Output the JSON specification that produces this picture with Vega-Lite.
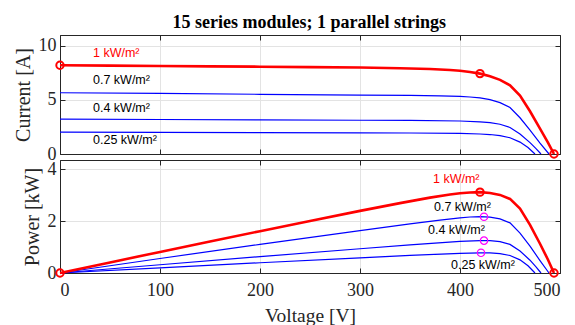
{
  "$schema": "https://vega.github.io/schema/vega-lite/v6.json",
  "autosize": {"type": "none"},
  "padding": {"left": 60, "top": 35, "right": 515, "bottom": 290},
  "background": "white",
  "title": {"text": "15 series modules; 1 parallel strings", "font": "Liberation Serif", "fontSize": 18, "fontWeight": "bold", "color": "#000000", "anchor": "middle", "offset": 2, "dx": 22},
  "config": {
    "view": {"stroke": "#262626", "strokeWidth": 1},
    "axis": {"labelFont": "Liberation Serif", "labelFontSize": 18, "labelColor": "#262626", "titleFont": "Liberation Serif", "titleFontSize": 20, "titleFontWeight": "normal", "titleColor": "#262626", "tickColor": "#262626", "domainColor": "#262626", "tickSize": -5, "gridColor": "#e3e3e3", "gridWidth": 1}
  },
  "datasets": {
    "curves": [
      {"series": "1", "V": 0, "I": 8.2, "P": 0},
      {"series": "1", "V": 50, "I": 8.17, "P": 0.409},
      {"series": "1", "V": 100, "I": 8.14, "P": 0.814},
      {"series": "1", "V": 150, "I": 8.1, "P": 1.215},
      {"series": "1", "V": 200, "I": 8.07, "P": 1.614},
      {"series": "1", "V": 250, "I": 8.03, "P": 2.008},
      {"series": "1", "V": 300, "I": 7.99, "P": 2.397},
      {"series": "1", "V": 340, "I": 7.93, "P": 2.696},
      {"series": "1", "V": 370, "I": 7.86, "P": 2.908},
      {"series": "1", "V": 390, "I": 7.76, "P": 3.026},
      {"series": "1", "V": 400, "I": 7.69, "P": 3.076},
      {"series": "1", "V": 410, "I": 7.58, "P": 3.108},
      {"series": "1", "V": 420, "I": 7.43, "P": 3.121},
      {"series": "1", "V": 430, "I": 7.18, "P": 3.087},
      {"series": "1", "V": 440, "I": 6.85, "P": 3.014},
      {"series": "1", "V": 450, "I": 6.35, "P": 2.858},
      {"series": "1", "V": 460, "I": 5.4, "P": 2.484},
      {"series": "1", "V": 470, "I": 3.95, "P": 1.857},
      {"series": "1", "V": 480, "I": 2.35, "P": 1.128},
      {"series": "1", "V": 488, "I": 1.05, "P": 0.512},
      {"series": "1", "V": 494, "I": 0, "P": 0},
      {"series": "0.7", "V": 0, "I": 5.66, "P": 0},
      {"series": "0.7", "V": 100, "I": 5.6, "P": 0.56},
      {"series": "0.7", "V": 200, "I": 5.52, "P": 1.104},
      {"series": "0.7", "V": 300, "I": 5.45, "P": 1.635},
      {"series": "0.7", "V": 350, "I": 5.41, "P": 1.894},
      {"series": "0.7", "V": 380, "I": 5.37, "P": 2.041},
      {"series": "0.7", "V": 400, "I": 5.32, "P": 2.128},
      {"series": "0.7", "V": 410, "I": 5.27, "P": 2.161},
      {"series": "0.7", "V": 420, "I": 5.18, "P": 2.176},
      {"series": "0.7", "V": 430, "I": 5.02, "P": 2.159},
      {"series": "0.7", "V": 440, "I": 4.75, "P": 2.09},
      {"series": "0.7", "V": 450, "I": 4.3, "P": 1.935},
      {"series": "0.7", "V": 460, "I": 3.35, "P": 1.541},
      {"series": "0.7", "V": 470, "I": 2.2, "P": 1.034},
      {"series": "0.7", "V": 480, "I": 1.0, "P": 0.48},
      {"series": "0.7", "V": 489, "I": 0, "P": 0},
      {"series": "0.4", "V": 0, "I": 3.22, "P": 0},
      {"series": "0.4", "V": 100, "I": 3.19, "P": 0.319},
      {"series": "0.4", "V": 200, "I": 3.16, "P": 0.632},
      {"series": "0.4", "V": 300, "I": 3.12, "P": 0.936},
      {"series": "0.4", "V": 350, "I": 3.1, "P": 1.085},
      {"series": "0.4", "V": 400, "I": 3.05, "P": 1.22},
      {"series": "0.4", "V": 420, "I": 2.97, "P": 1.247},
      {"series": "0.4", "V": 430, "I": 2.9, "P": 1.247},
      {"series": "0.4", "V": 440, "I": 2.75, "P": 1.21},
      {"series": "0.4", "V": 450, "I": 2.45, "P": 1.103},
      {"series": "0.4", "V": 460, "I": 1.85, "P": 0.851},
      {"series": "0.4", "V": 470, "I": 1.05, "P": 0.494},
      {"series": "0.4", "V": 476, "I": 0.5, "P": 0.238},
      {"series": "0.4", "V": 481, "I": 0, "P": 0},
      {"series": "0.25", "V": 0, "I": 2.02, "P": 0},
      {"series": "0.25", "V": 100, "I": 2.0, "P": 0.2},
      {"series": "0.25", "V": 200, "I": 1.98, "P": 0.396},
      {"series": "0.25", "V": 300, "I": 1.95, "P": 0.585},
      {"series": "0.25", "V": 350, "I": 1.94, "P": 0.679},
      {"series": "0.25", "V": 400, "I": 1.9, "P": 0.76},
      {"series": "0.25", "V": 420, "I": 1.85, "P": 0.777},
      {"series": "0.25", "V": 430, "I": 1.8, "P": 0.774},
      {"series": "0.25", "V": 440, "I": 1.7, "P": 0.748},
      {"series": "0.25", "V": 450, "I": 1.5, "P": 0.675},
      {"series": "0.25", "V": 460, "I": 1.1, "P": 0.506},
      {"series": "0.25", "V": 468, "I": 0.6, "P": 0.281},
      {"series": "0.25", "V": 475, "I": 0, "P": 0}
    ],
    "markersI": [
      {"series": "1", "V": 0, "I": 8.2},
      {"series": "1", "V": 420, "I": 7.43},
      {"series": "1", "V": 494, "I": 0}
    ],
    "markersP": [
      {"series": "1", "V": 0, "P": 0},
      {"series": "1", "V": 420, "P": 3.12},
      {"series": "1", "V": 494, "P": 0},
      {"series": "0.7", "V": 424, "P": 2.17},
      {"series": "0.4", "V": 424, "P": 1.25},
      {"series": "0.25", "V": 421, "P": 0.78}
    ],
    "labelsI": [
      {"series": "1", "V": 33, "I": 9.3, "text": "1 kW/m²"},
      {"series": "0.7", "V": 33, "I": 6.8, "text": "0.7 kW/m²"},
      {"series": "0.4", "V": 33, "I": 4.26, "text": "0.4 kW/m²"},
      {"series": "0.25", "V": 33, "I": 1.34, "text": "0.25 kW/m²"}
    ],
    "labelsP": [
      {"series": "1", "V": 373, "P": 3.62, "text": "1 kW/m²"},
      {"series": "0.7", "V": 374, "P": 2.56, "text": "0.7 kW/m²"},
      {"series": "0.4", "V": 368, "P": 1.67, "text": "0.4 kW/m²"},
      {"series": "0.25", "V": 391, "P": 0.32, "text": "0.25 kW/m²"}
    ]
  },
  "spacing": 6,
  "bounds": "flush",
  "vconcat": [
    {
      "width": 500,
      "height": 119,
      "resolve": {"axis": {"x": "independent", "y": "independent"}},
      "layer": [
        {
          "data": {"name": "curves"},
          "transform": [{"filter": "datum.series != '1'"}],
          "mark": {"type": "line", "color": "#0000ff", "strokeWidth": 1.2},
          "encoding": {
            "x": {"field": "V", "type": "quantitative", "scale": {"domain": [0, 500], "nice": false}, "axis": {"values": [0, 100, 200, 300, 400, 500], "labels": false, "title": null, "grid": true}},
            "y": {"field": "I", "type": "quantitative", "scale": {"domain": [0, 11], "nice": false}, "axis": {"values": [0, 5, 10], "title": "Current [A]", "grid": true, "labelPadding": 9, "titlePadding": 5}},
            "detail": {"field": "series"}
          }
        },
        {
          "data": {"name": "curves"},
          "transform": [{"filter": "datum.series == '1'"}],
          "mark": {"type": "line", "color": "#ff0000", "strokeWidth": 2.6},
          "encoding": {
            "x": {"field": "V", "type": "quantitative", "axis": {"orient": "top", "values": [0, 100, 200, 300, 400, 500], "labels": false, "title": null, "grid": false}},
            "y": {"field": "I", "type": "quantitative", "axis": {"orient": "right", "values": [0, 5, 10], "labels": false, "title": null, "grid": false}}
          }
        },
        {
          "data": {"name": "markersI"},
          "mark": {"type": "point", "color": "#ff0000", "strokeWidth": 2, "size": 55, "opacity": 1},
          "encoding": {
            "x": {"field": "V", "type": "quantitative", "axis": null},
            "y": {"field": "I", "type": "quantitative", "axis": null}
          }
        },
        {
          "data": {"name": "labelsI"},
          "mark": {"type": "text", "align": "left", "baseline": "middle", "font": "Liberation Sans", "fontSize": 12.5},
          "encoding": {
            "x": {"field": "V", "type": "quantitative", "axis": null},
            "y": {"field": "I", "type": "quantitative", "axis": null},
            "text": {"field": "text"},
            "color": {"field": "series", "type": "nominal", "scale": {"domain": ["1", "0.7", "0.4", "0.25"], "range": ["#ff0000", "#000000", "#000000", "#000000"]}, "legend": null}
          }
        }
      ]
    },
    {
      "width": 500,
      "height": 113,
      "resolve": {"axis": {"x": "independent", "y": "independent"}},
      "layer": [
        {
          "data": {"name": "curves"},
          "transform": [{"filter": "datum.series != '1'"}],
          "mark": {"type": "line", "color": "#0000ff", "strokeWidth": 1.2},
          "encoding": {
            "x": {"field": "V", "type": "quantitative", "scale": {"domain": [0, 500], "nice": false}, "axis": {"values": [0, 100, 200, 300, 400, 500], "title": "Voltage [V]", "titleFontSize": 19.5, "grid": true, "labelPadding": 13, "titlePadding": 7}},
            "y": {"field": "P", "type": "quantitative", "scale": {"domain": [0, 4.36], "nice": false}, "axis": {"values": [0, 2, 4], "title": "Power [kW]", "grid": true, "labelPadding": 9, "titlePadding": 5}},
            "detail": {"field": "series"}
          }
        },
        {
          "data": {"name": "curves"},
          "transform": [{"filter": "datum.series == '1'"}],
          "mark": {"type": "line", "color": "#ff0000", "strokeWidth": 2.6},
          "encoding": {
            "x": {"field": "V", "type": "quantitative", "axis": {"orient": "top", "values": [0, 100, 200, 300, 400, 500], "labels": false, "title": null, "grid": false}},
            "y": {"field": "P", "type": "quantitative", "axis": {"orient": "right", "values": [0, 2, 4], "labels": false, "title": null, "grid": false}}
          }
        },
        {
          "data": {"name": "markersP"},
          "transform": [{"filter": "datum.series == '1'"}],
          "mark": {"type": "point", "color": "#ff0000", "strokeWidth": 2, "size": 55, "opacity": 1},
          "encoding": {
            "x": {"field": "V", "type": "quantitative", "axis": null},
            "y": {"field": "P", "type": "quantitative", "axis": null}
          }
        },
        {
          "data": {"name": "markersP"},
          "transform": [{"filter": "datum.series != '1'"}],
          "mark": {"type": "point", "color": "#ff00ff", "strokeWidth": 1.2, "size": 55, "opacity": 1},
          "encoding": {
            "x": {"field": "V", "type": "quantitative", "axis": null},
            "y": {"field": "P", "type": "quantitative", "axis": null}
          }
        },
        {
          "data": {"name": "labelsP"},
          "mark": {"type": "text", "align": "left", "baseline": "middle", "font": "Liberation Sans", "fontSize": 12.5},
          "encoding": {
            "x": {"field": "V", "type": "quantitative", "axis": null},
            "y": {"field": "P", "type": "quantitative", "axis": null},
            "text": {"field": "text"},
            "color": {"field": "series", "type": "nominal", "scale": {"domain": ["1", "0.7", "0.4", "0.25"], "range": ["#ff0000", "#000000", "#000000", "#000000"]}, "legend": null}
          }
        }
      ]
    }
  ]
}
